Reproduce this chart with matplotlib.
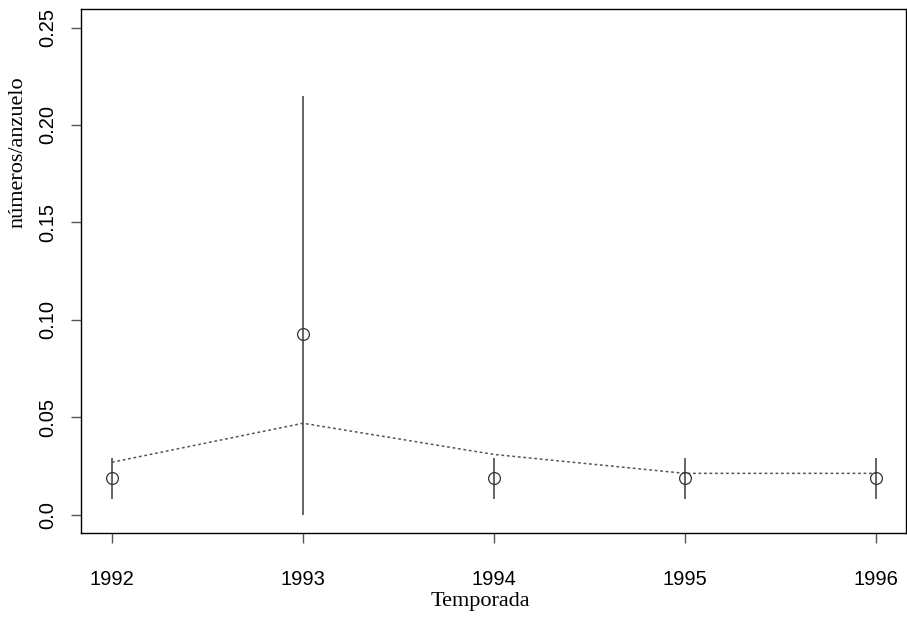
import matplotlib
matplotlib.use("Agg")
import matplotlib.pyplot as plt

# 数据
years = [1992, 1993, 1994, 1995, 1996]
valores = [0.019, 0.093, 0.019, 0.019, 0.019]
inferior = [0.008, 0.0, 0.008, 0.008, 0.008]
superior = [0.029, 0.215, 0.029, 0.029, 0.029]
tendencia = [0.027, 0.047, 0.031, 0.0213, 0.0213]
yticks = [0.0, 0.05, 0.10, 0.15, 0.20, 0.25]
yticklabels = ["0.0", "0.05", "0.10", "0.15", "0.20", "0.25"]

fig = plt.figure(figsize=(9.07, 6.2), dpi=100)
ax = fig.add_axes([0.0893, 0.1403, 0.9096, 0.8452])

# 误差线
ax.vlines(years, inferior, superior, color="#4a4a4a", linewidth=1.2)
# 虚线趋势
ax.plot(years, tendencia, color="#555555", linewidth=1.1, linestyle=(0, (1.8, 1.8)))
# 空心圆点
ax.plot(years, valores, linestyle="none", marker="o", markersize=8.5,
        markerfacecolor="none", markeredgecolor="#333333", markeredgewidth=0.9)

ax.set_xlim(1991.838, 1996.157)
ax.set_ylim(-0.0093, 0.2595)
ax.set_xticks(years)
ax.set_xticklabels([str(y) for y in years], family="Liberation Sans", fontsize=14.5)
ax.set_yticks(yticks)
ax.set_yticklabels(yticklabels, family="Liberation Sans", fontsize=14.5,
                   rotation=90, va="center")
ax.tick_params(axis="both", direction="out", length=7, width=1, color="#555555")
ax.tick_params(axis="x", pad=19.5)
ax.tick_params(axis="y", pad=10)

for s in ax.spines.values():
    s.set_linewidth(1)
    s.set_color("black")

ax.text(0.4836, -0.13, "Temporada", transform=ax.transAxes,
        ha="center", va="center", family="Liberation Serif", fontsize=16)
ax.text(-0.0764, 0.727, "números/anzuelo", transform=ax.transAxes, rotation=90,
        ha="center", va="center", family="Liberation Serif", fontsize=16)

plt.savefig("out.png", dpi=100, facecolor="white")
plt.close()
